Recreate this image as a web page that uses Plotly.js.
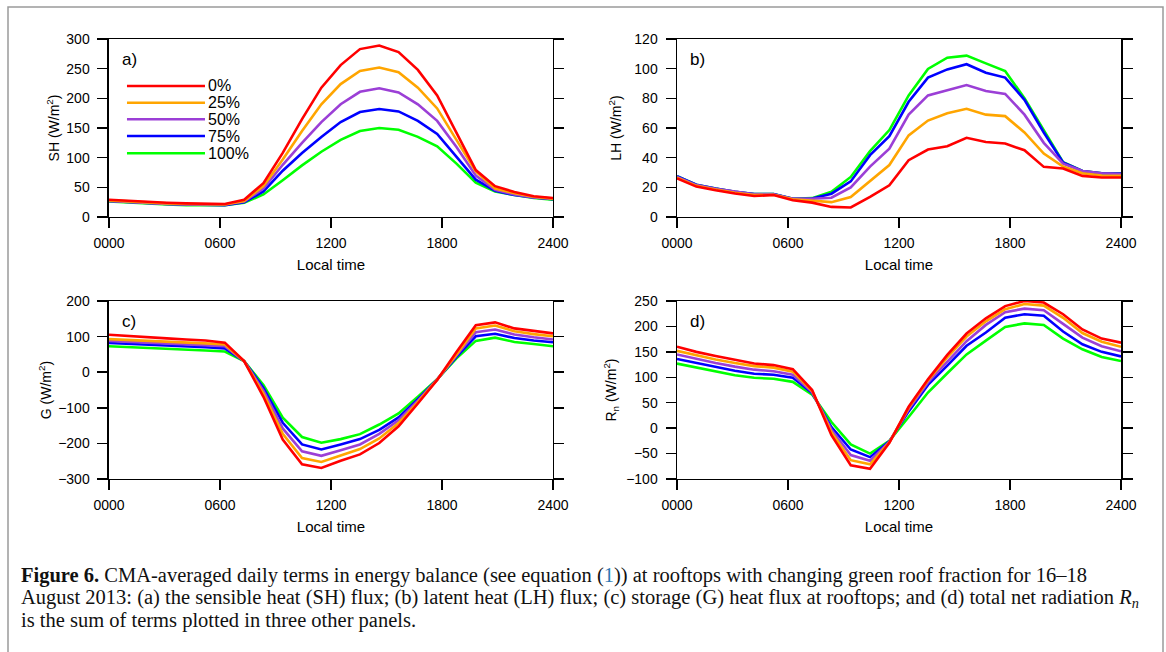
<!DOCTYPE html>
<html><head><meta charset="utf-8">
<script src="https://cdn.plot.ly/plotly-3.0.1.min.js"></script>
<style>html,body{margin:0;padding:0;background:#fff;} #chart{width:1166px;height:652px;}</style>
</head><body><div id="chart"></div>
<script>
// hourly samples (24 values) spread over the 0000-2400 axis
const hourIndex = [0,1,2,3,4,5,6,7,8,9,10,11,12,13,14,15,16,17,18,19,20,21,22,23];
const tickPositions = [0, 5.75, 11.5, 17.25, 23];
const tickLabels = ['0000','0600','1200','1800','2400'];
const fractions = ['0%','25%','50%','75%','100%'];

// (a) sensible heat flux SH (W/m2)
const SH_0   = [29,27,25,24,23,22,22,29,57,108,165,218,256,283,289,278,248,205,141,79,52,42,35,32];
const SH_25  = [28,26,24,23,22,21,21,27,52,97,145,190,224,246,252,244,218,183,130,77,48,40,34,31];
const SH_50  = [27,25,23,22,21,21,21,26,48,88,125,160,190,211,217,210,190,162,118,70,46,38,33,31];
const SH_75  = [27,25,23,22,21,20,20,25,43,78,108,135,160,177,182,178,162,140,102,63,44,37,33,30];
const SH_100 = [26,24,22,21,20,20,20,24,38,62,87,110,130,145,150,147,135,119,90,58,43,37,32,29];

// (b) latent heat flux LH (W/m2)
const LH_0   = [26,20.5,18,15.8,14.2,14.8,11.3,9.7,6.8,6.4,13.5,21.4,38.3,45.5,47.7,53.4,50.6,49.5,45,33.8,32.7,27.7,26.6,26.6];
const LH_25  = [26.5,21,18.5,16.3,14.8,15,12,11,10,13.5,24,35,55,65,70,73,69,68,57,42.8,34,29.5,28,27.7];
const LH_50  = [27,21.5,19,17,15.3,15.3,12.3,12.3,13,20,34,46,69,82,85.5,89,85,83,69,50,36,31,29.5,29];
const LH_75  = [27.5,21.8,19.2,17,15.4,15.4,12.3,12.5,15.7,24,41.7,54.5,77.7,94,99.5,103,97.3,94,79,57,36.7,31,29.5,29.3];
const LH_100 = [27.5,21.8,19.2,17,15.4,15.4,12.3,12.7,17,27,44.4,58.6,82,99.8,107.4,108.8,103.6,98.4,80,58.6,37,31,29.5,29.3];

// (c) storage heat flux G (W/m2)
const G_0   = [105,101,98,95,92,89,83,31,-69,-189,-259,-269,-249,-231,-199,-152,-88,-22,57,132,140,123,116,109];
const G_25  = [93,91,89,86,84,81,78,31,-60,-173,-241,-252,-234,-216,-186,-143,-84,-21,50,123,131,115,107,101];
const G_50  = [88,86,83,81,78,76,73,31,-52,-158,-222,-235,-219,-203,-173,-135,-80,-21,47,112,120,106,98,92];
const G_75  = [82,80,78,75,72,70,67,31,-44,-142,-203,-217,-203,-188,-162,-127,-76,-20,43,101,108,96,89,84];
const G_100 = [73,71,69,67,64,61,58,31,-36,-128,-182,-198,-188,-174,-147,-116,-69,-20,39,88,97,85,79,73];

// (d) net radiation Rn (W/m2)
const RN_0   = [160,150,142,134,127,124,116,75,-14,-73,-80,-29,42,96,144,186,216,240,250,247,224,194,176,168];
const RN_25  = [152,143,135,128,122,119,111,73,-8,-63,-71,-28,40,94,139,180,210,234,244,241,217,187,170,160];
const RN_50  = [145,136,128,121,115,112,105,71,-3,-53,-64,-27,37,90,131,171,203,228,235,232,205,178,161,151];
const RN_75  = [136,128,120,113,107,105,99,69,2,-42,-57,-26,33,85,123,162,188,217,224,221,190,165,150,141];
const RN_100 = [127,119,111,104,99,97,91,66,12,-32,-50,-25,22,70,108,145,172,199,206,203,176,155,140,132];

const colors = ['#ff0000','#ffa500','#9b3fd6','#0000ff','#00ff00'];

const panels = [
  {series:[SH_0,SH_25,SH_50,SH_75,SH_100], range:[0,300], dtick:50, title:'SH (W/m<sup>2</sup>)', label:'a)', xd:[0.09348,0.47427], yd:[0.66718,0.94018], standoff:3},
  {series:[LH_0,LH_25,LH_50,LH_75,LH_100], range:[0,120], dtick:20, title:'LH (W/m<sup>2</sup>)', label:'b)', xd:[0.58062,0.96141], yd:[0.66718,0.94018], standoff:9},
  {series:[G_0,G_25,G_50,G_75,G_100], range:[-300,200], dtick:100, title:'G (W/m<sup>2</sup>)', label:'c)', xd:[0.09348,0.47427], yd:[0.26534,0.53834], standoff:3},
  {series:[RN_0,RN_25,RN_50,RN_75,RN_100], range:[-100,250], dtick:50, title:'R<sub>n</sub> (W/m<sup>2</sup>)', label:'d)', xd:[0.58062,0.96141], yd:[0.26534,0.53834], standoff:6}
];

const FONT = 'Liberation Sans, Arial, Helvetica, sans-serif';
const traces = [];
const layout = {
  width:1166, height:652,
  margin:{l:0,r:0,t:0,b:0},
  paper_bgcolor:'#ffffff', plot_bgcolor:'#ffffff',
  showlegend:false,
  font:{family:FONT, color:'#000', size:14},
  annotations:[], shapes:[]
};

panels.forEach((p, k) => {
  const n = k+1;
  const xa = n===1 ? 'x' : 'x'+n;
  const ya = n===1 ? 'y' : 'y'+n;
  // draw 100% first so 0% ends on top
  for (let s = p.series.length-1; s >= 0; s--) {
    traces.push({x:hourIndex, y:p.series[s], xaxis:xa, yaxis:ya, type:'scatter', mode:'lines',
      name:fractions[s], line:{color:colors[s], width:2.6}, hoverinfo:'skip'});
  }
  layout['xaxis'+(n===1?'':n)] = {
    domain:p.xd, anchor:ya, range:[0,23], tickmode:'array', tickvals:tickPositions, ticktext:tickLabels,
    showline:true, mirror:true, linecolor:'#000', linewidth:1.5, ticks:'outside', ticklen:10, tickwidth:1.5,
    tickcolor:'#000', showgrid:false, zeroline:false, ticklabelstandoff:3,
    tickfont:{family:FONT, size:14, color:'#000'},
    title:{text:'Local time', font:{family:FONT, size:15, color:'#000'}, standoff:9}
  };
  layout['yaxis'+(n===1?'':n)] = {
    domain:p.yd, anchor:xa, range:p.range, dtick:p.dtick, tick0:0,
    showline:true, mirror:'ticks', linecolor:'#000', linewidth:1.5, ticks:'outside', ticklen:10, tickwidth:1.5,
    tickcolor:'#000', showgrid:false, zeroline:false, ticklabelstandoff:5,
    tickfont:{family:FONT, size:14, color:'#000'},
    title:{text:p.title, font:{family:FONT, size:14, color:'#000'}, standoff:p.standoff}
  };
  layout.annotations.push({text:p.label, xref:xa+' domain', yref:ya+' domain', x:0.025, y:0.885,
    xanchor:'left', yanchor:'middle', showarrow:false, font:{family:FONT, size:17, color:'#000'}});
});

// legend inside panel (a)
const legendRows = [0.736, 0.642, 0.549, 0.455, 0.358];
fractions.forEach((f, i) => {
  layout.shapes.push({type:'line', xref:'x domain', yref:'y domain', x0:0.0405, x1:0.2162,
    y0:legendRows[i], y1:legendRows[i], line:{color:colors[i], width:2.6}});
  layout.annotations.push({text:f, xref:'x domain', yref:'y domain', x:0.219, y:legendRows[i],
    xanchor:'left', yanchor:'middle', showarrow:false, font:{family:FONT, size:16, color:'#000'}});
});

// outer frame of the figure
layout.shapes.push({type:'rect', xref:'paper', yref:'paper', x0:8/1166, x1:1163/1166, y0:-0.2, y1:1-7/652,
  line:{color:'#9a9a9a', width:1.5}, fillcolor:'rgba(0,0,0,0)', layer:'below'});

// caption, one annotation per printed line
const captionLines = [
  '<b>Figure 6.</b> CMA-averaged daily terms in energy balance (see equation (<span style="color:#2a78b4">1</span>)) at rooftops with changing green roof fraction for 16–18',
  'August 2013: (a) the sensible heat (SH) flux; (b) latent heat (LH) flux; (c) storage (G) heat flux at rooftops; and (d) total net radiation <i>R<sub>n</sub></i>',
  'is the sum of terms plotted in three other panels.'
];
const captionRowsPx = [575, 598, 620];
captionLines.forEach((t, i) => {
  layout.annotations.push({text:t, xref:'paper', yref:'paper', x:19/1166, y:1-captionRowsPx[i]/652,
    xanchor:'left', yanchor:'middle', align:'left', showarrow:false,
    font:{family:'Liberation Serif, Times New Roman, serif', size:20.5, color:'#111'}});
});

Plotly.newPlot('chart', traces, layout, {staticPlot:true, displayModeBar:false});
</script></body></html>
